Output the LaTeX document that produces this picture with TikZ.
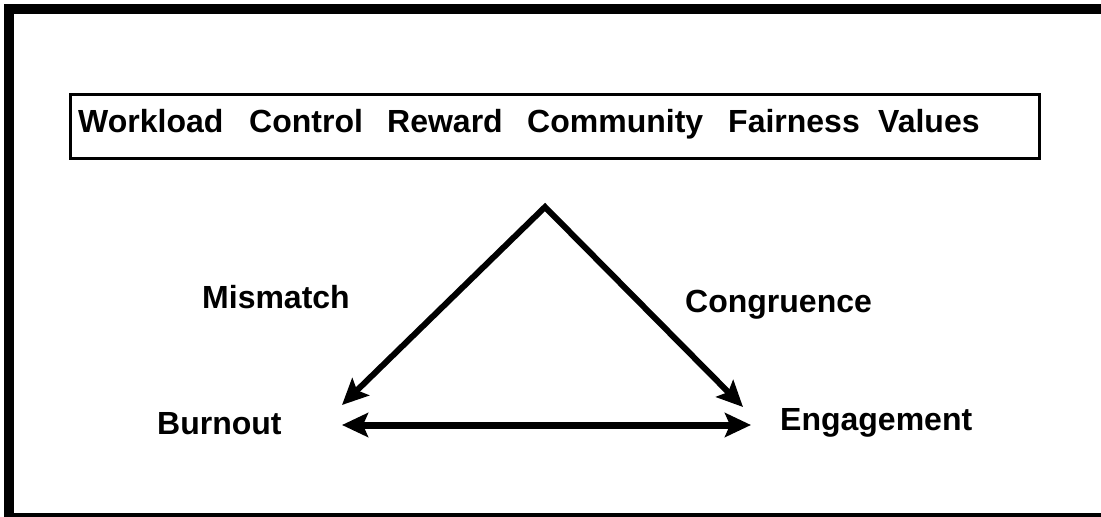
\documentclass[tikz,border=0pt]{standalone}
\usepackage{fontspec}
\setmainfont{Liberation Sans}
\usetikzlibrary{arrows.meta}

\tikzset{bigtip/.tip={Stealth[length=26pt, width=24pt, inset=5pt]}}

\begin{document}
\begin{tikzpicture}[x=1pt, y=-1pt,
    word/.style={font=\fontsize{32}{38}\selectfont\bfseries, inner sep=0pt, anchor=base west}
  ]
  \useasboundingbox (0,0) rectangle (1101,517);

  % heavy outer frame, running off the right and bottom
  \begin{scope}
    \clip (0,0) rectangle (1101,517);
    \draw[line width=10pt] (9,9) rectangle (1120,518);
  \end{scope}

  % the six areas of worklife
  \node[draw, line width=3pt, minimum width=969pt, minimum height=64pt, inner sep=0pt] (areas) at (554.5,126) {};
  \node[word] (workload) at (78,132) {Workload};
  \node[word] (control) at (249,132) {Control};
  \node[word] (reward) at (387,132) {Reward};
  \node[word] (community) at (527,132) {Community};
  \node[word] (fairness) at (728,132) {Fairness};
  \node[word] (values) at (878,132) {Values};

  % outcomes
  \node[word] (mismatch) at (202,308) {Mismatch};
  \node[word] (congruence) at (685,312) {Congruence};
  \node[word] (burnout) at (157,434) {Burnout};
  \node[word] (engagement) at (780,430) {Engagement};

  \coordinate (apex) at (545,207);
  \coordinate (toburn) at (342,405);
  \coordinate (toeng) at (743,407);
  \coordinate (left) at (342,425);
  \coordinate (right) at (751,425);

  \draw[line width=6pt, bigtip-bigtip] (toburn) -- (apex) -- (toeng);
  \draw[line width=7pt, bigtip-bigtip] (left) -- (right);
\end{tikzpicture}
\end{document}
